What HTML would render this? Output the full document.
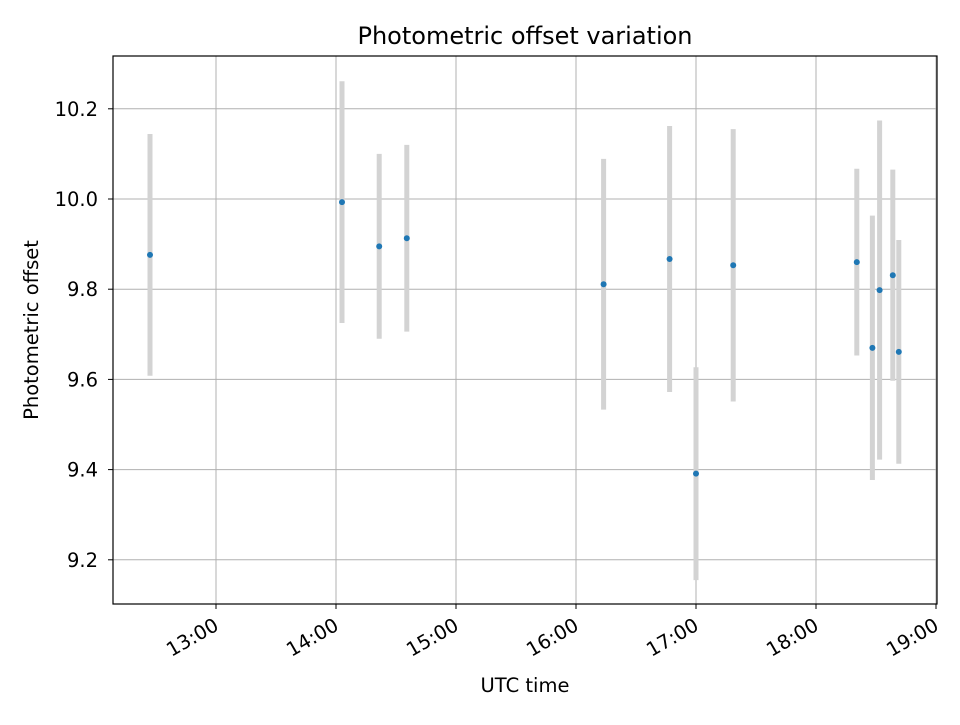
<!DOCTYPE html>
<html><head><meta charset="utf-8"><style>
body{margin:0;background:#fff}
svg text{font-family:"DejaVu Sans","Liberation Sans",sans-serif;fill:#000}
</style></head><body>
<svg id="chart" width="960" height="720" xmlns="http://www.w3.org/2000/svg">
<rect width="960" height="720" fill="#fff"/>
<text x="525" y="44" font-size="24" text-anchor="middle">Photometric offset variation</text>
<g id="grid"></g><g id="err"></g><g id="pts"></g><g id="axes"></g>
<text x="525" y="692" font-size="19.5" text-anchor="middle">UTC time</text>
<text transform="translate(38,330) rotate(-90)" font-size="19.5" text-anchor="middle">Photometric offset</text>
</svg>
<script>
const timesHours=[12.45,14.05,14.36,14.59,16.23,16.78,17.0,17.31,18.34,18.47,18.53,18.64,18.69];
const offsets=[9.876,9.993,9.895,9.913,9.811,9.867,9.391,9.853,9.860,9.670,9.798,9.831,9.661];
const errors=[0.268,0.268,0.205,0.207,0.278,0.295,0.236,0.302,0.207,0.293,0.376,0.234,0.248];
const xTicks=[13,14,15,16,17,18,19];
const xTickLabels=["13:00","14:00","15:00","16:00","17:00","18:00","19:00"];
const yTicks=[9.2,9.4,9.6,9.8,10.0,10.2];
const yTickLabels=["9.2","9.4","9.6","9.8","10.0","10.2"];
const L=113,R=937,T=56,B=604;
const xs=h=>216+(h-13)*120;
const ys=v=>199+(10.0-v)*451;
const NS="http://www.w3.org/2000/svg";
function mk(tag,attrs,parent,text){const e=document.createElementNS(NS,tag);for(const k in attrs)e.setAttribute(k,attrs[k]);if(text!==undefined)e.textContent=text;document.getElementById(parent).appendChild(e);return e;}
xTicks.forEach((t,i)=>{const x=xs(t);
const g=mk('line',{x1:x,x2:x,y1:T,y2:B,stroke:'#b0b0b0','stroke-width':1},'grid');


const tk=mk('line',{x1:x,x2:x,y1:B,y2:B+5,stroke:'#000'},'axes');


const ax=x+4,ay=B+25;
const lb=mk('text',{x:ax,y:ay,'font-size':19.5,'text-anchor':'end',transform:`rotate(-30 ${ax} ${ay})`},'axes',xTickLabels[i]);


});
yTicks.forEach((t,i)=>{const y=ys(t);
const g=mk('line',{x1:L,x2:R,y1:y,y2:y,stroke:'#b0b0b0','stroke-width':1},'grid');


const tk=mk('line',{x1:L-5,x2:L,y1:y,y2:y,stroke:'#000'},'axes');


const lb=mk('text',{x:L-15,y:y+7,'font-size':19.5,'text-anchor':'end'},'axes',yTickLabels[i]);


});
const fr=mk('rect',{x:L,y:T,width:R-L,height:B-T,fill:'none',stroke:'#000','stroke-width':1.2},'axes');


timesHours.forEach((h,i)=>{const x=xs(h);
const e=mk('line',{x1:x,x2:x,y1:ys(offsets[i]+errors[i]),y2:ys(offsets[i]-errors[i]),stroke:'#d3d3d3','stroke-width':5},'err');


const p=mk('circle',{cx:x,cy:ys(offsets[i]),r:3,fill:'#1f77b4'},'pts');


});
</script>
</body></html>
